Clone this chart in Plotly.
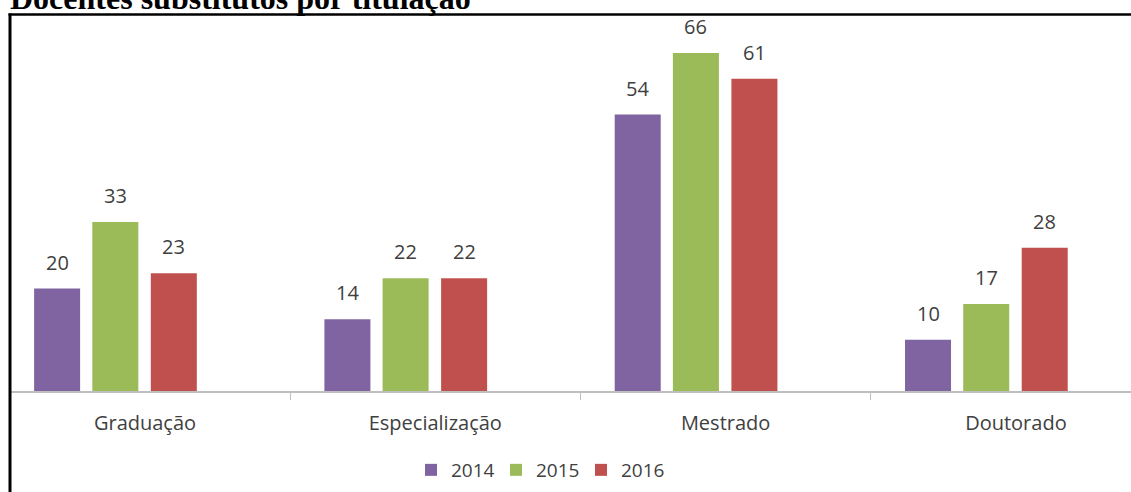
import plotly.graph_objects as go

categories = ["Graduação", "Especialização", "Mestrado", "Doutorado"]
years = ["2014", "2015", "2016"]
values_2014 = [20, 14, 54, 10]
values_2015 = [33, 22, 66, 17]
values_2016 = [23, 22, 61, 28]
series = [values_2014, values_2015, values_2016]
colors = ["#8064A2", "#9BBB59", "#C0504D"]
title_text = "Docentes substitutos por titulação"

W, H = 1131, 492
ml, mr, mt, mb = 11, 0, 15, 101
PW, PH = W - ml - mr, H - mt - mb
cat_px = 290.3          # pixels per category
first_center_px = 145   # pixel of first category centre
px_per_unit = 5.12

def px2x(px):
    return (px - ml) / PW

def py2y(py):
    return (H - mb - py) / PH

bar_width = 0.1585
offsets = [-0.382, -0.1815, 0.02]
font_family = "Open Sans, Lato, sans-serif"
text_color = "#404040"

fig = go.Figure()
for name, vals, col, off in zip(years, series, colors, offsets):
    fig.add_trace(go.Bar(
        name=name, x=categories, y=vals,
        width=bar_width, offset=off,
        marker=dict(color=col, line=dict(width=0)),
    ))

annotations = []
for vals, off in zip(series, offsets):
    for i, v in enumerate(vals):
        annotations.append(dict(
            x=i + off + bar_width / 2, y=v, xref="x", yref="y",
            text=str(v), showarrow=False, yanchor="bottom", yshift=11,
            font=dict(family=font_family, size=20, color=text_color),
        ))

annotations.append(dict(
    x=px2x(8), y=py2y(18), xref="paper", yref="paper",
    xanchor="left", yanchor="bottom", showarrow=False,
    text="<b>" + title_text + "</b>",
    font=dict(family="Liberation Serif, Times New Roman, serif", size=32, color="black"),
))

shapes = [
    dict(type="line", xref="paper", yref="paper",
         x0=px2x(10), x1=px2x(10), y0=py2y(13.5), y1=py2y(H + 5),
         line=dict(color="black", width=3)),
    dict(type="line", xref="paper", yref="paper",
         x0=px2x(8.5), x1=px2x(W + 5), y0=py2y(14.5), y1=py2y(14.5),
         line=dict(color="black", width=2.5)),
]

x_left = (ml - first_center_px) / cat_px
x_right = (W - mr - first_center_px) / cat_px

fig.update_layout(
    width=W, height=H,
    margin=dict(l=ml, r=mr, t=mt, b=mb, pad=0),
    paper_bgcolor="white", plot_bgcolor="white",
    barmode="overlay",
    showlegend=True,
    legend=dict(orientation="h", x=px2x(411), xanchor="left",
                y=py2y(470), yanchor="middle",
                font=dict(family=font_family, size=19, color=text_color),
                entrywidth=40, entrywidthmode="pixels",
                bgcolor="rgba(0,0,0,0)"),
    xaxis=dict(type="category", range=[x_left, x_right],
               showline=True, linecolor="#BFBFBF", linewidth=1.5,
               ticks="outside", ticklen=7, tickcolor="#BFBFBF", tickwidth=1,
               tickson="boundaries", showgrid=False, zeroline=False,
               ticklabelstandoff=13,
               tickfont=dict(family=font_family, size=20, color=text_color)),
    yaxis=dict(range=[0, PH / px_per_unit], visible=False, showgrid=False,
               zeroline=False),
    annotations=annotations,
    shapes=shapes,
)

fig.write_html("out.html", config={"displayModeBar": False},
               post_script="document.body.style.margin='0';document.body.style.padding='0';")
